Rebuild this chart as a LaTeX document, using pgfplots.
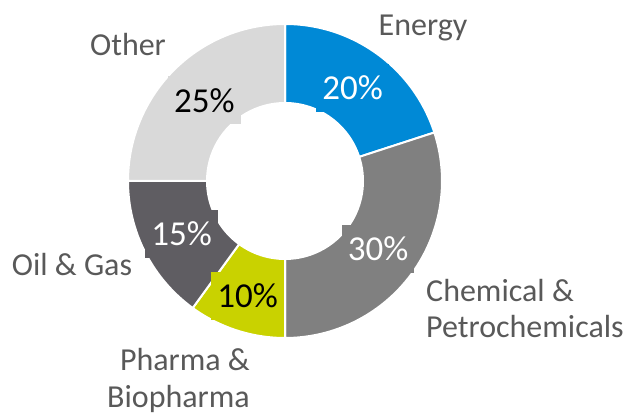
\documentclass[border=0pt]{standalone}
\usepackage{pgfplots}
\pgfplotsset{compat=1.18}
\usepackage{pgfplotstable}
\usetikzlibrary{calc}
\usepackage{fontspec}
\setmainfont{Carlito}
\definecolor{cEnergy}{RGB}{0,137,214}
\definecolor{cChem}{RGB}{128,128,128}
\definecolor{cPharma}{RGB}{201,210,0}
\definecolor{cOil}{RGB}{95,93,98}
\definecolor{cOther}{RGB}{217,217,217}
\definecolor{lblgray}{RGB}{89,89,89}

% share (%), slice colour, label colour, label radius
\pgfplotstableread{
share fillc textc rad
20 cEnergy white 115
30 cChem white 115
10 cPharma black 121
15 cOil white 116
25 cOther black 114
}\shares

\newcommand{\pctfont}{\fontsize{35}{40}\selectfont}
\newcommand{\lblfont}{\fontsize{32}{38}\selectfont}

\begin{document}
\begin{tikzpicture}
\begin{axis}[x=1pt,y=1pt,xmin=0,xmax=627,ymin=0,ymax=417,
  hide axis,clip=false]
\path (axis cs:0,0) rectangle (axis cs:627,417);
\pgfplotsextra{
  \pgfplotstablegetrowsof{\shares}
  \pgfmathtruncatemacro{\N}{\pgfplotsretval-1}
  \gdef\cum{0}
  \foreach \i in {0,...,\N}{
    \pgfplotstablegetelem{\i}{share}\of{\shares}\let\v\pgfplotsretval
    \pgfplotstablegetelem{\i}{fillc}\of{\shares}\let\fc\pgfplotsretval
    \pgfmathsetmacro{\a}{90-3.6*\cum}
    \pgfmathsetmacro{\b}{90-3.6*(\cum+\v)}
    \fill[fill=\fc, draw=white, line width=2pt]
      ($(axis cs:285,236)+(\a:157pt)$) arc[start angle=\a,end angle=\b,radius=157pt]
      -- ($(axis cs:285,236)+(\b:78pt)$) arc[start angle=\b,end angle=\a,radius=78pt]
      -- cycle;
    \pgfmathsetmacro{\newcum}{\cum+\v}
    \xdef\cum{\newcum}
  }
  \gdef\cum{0}
  \foreach \i in {0,...,\N}{
    \pgfplotstablegetelem{\i}{share}\of{\shares}\let\v\pgfplotsretval
    \pgfplotstablegetelem{\i}{fillc}\of{\shares}\let\fc\pgfplotsretval
    \pgfplotstablegetelem{\i}{textc}\of{\shares}\let\tc\pgfplotsretval
    \pgfplotstablegetelem{\i}{rad}\of{\shares}\let\rr\pgfplotsretval
    \pgfmathsetmacro{\m}{90-3.6*(\cum+\v/2)}
    \node[fill=\fc, text=\tc, inner xsep=6pt, inner ysep=12pt, font=\pctfont]
      at ($(axis cs:285,236)+(\m:\rr pt)$) {\v\%};
    \pgfmathsetmacro{\newcum}{\cum+\v}
    \xdef\cum{\newcum}
  }
}
\begin{scope}[every node/.style={font=\lblfont, text=lblgray, inner sep=0pt}]
\node[anchor=base] at (axis cs:423,381) {Energy};
\node[anchor=base] at (axis cs:128,361) {Other};
\node[anchor=base] at (axis cs:72,141) {Oil \& Gas};
\node[anchor=base west] at (axis cs:426,115) {Chemical \&};
\node[anchor=base west] at (axis cs:426,79) {Petrochemicals};
\node[anchor=base east] at (axis cs:250,46) {Pharma \&};
\node[anchor=base east] at (axis cs:250,9) {Biopharma};
\end{scope}
\end{axis}
\end{tikzpicture}
\end{document}
